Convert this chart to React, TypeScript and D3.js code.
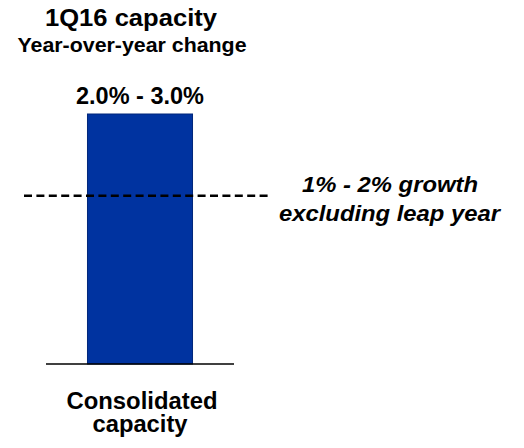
import React from "react";
import * as d3 from "d3";

const categories = ["Consolidated capacity"];
const barValues = [3.0];
const barLabels = ["2.0% - 3.0%"];
const refValue = 2.02;
const refLabel = ["1% - 2% growth", "excluding leap year"];
const titleLines = ["1Q16 capacity", "Year-over-year change"];
const categoryLines = ["Consolidated", "capacity"];

const W = 524;
const H = 448;
const FONT = "'Liberation Sans', Arial, sans-serif";

export default function App() {
  const x = d3
    .scaleBand<string>()
    .domain(categories)
    .range([46, 234])
    .paddingInner(0)
    .paddingOuter(0.395);
  const y = d3.scaleLinear().domain([0, 3]).range([364, 114]);
  const bw = x.bandwidth();
  const cx = (x(categories[0]) as number) + bw / 2;

  return (
    <svg
      width={W}
      height={H}
      style={{ position: "absolute", left: 0, top: 0, background: "#fff" }}
      fontFamily={FONT}
    >
      <rect x={0} y={0} width={W} height={H} fill="#fff" />
      <text x={131} y={26} textAnchor="middle" fontWeight="bold" fontSize={23} textLength={172} lengthAdjust="spacingAndGlyphs" fill="#000">
        {titleLines[0]}
      </text>
      <text x={132} y={52} textAnchor="middle" fontWeight="bold" fontSize={20} textLength={229} lengthAdjust="spacingAndGlyphs" fill="#000">
        {titleLines[1]}
      </text>

      {categories.map((c, i) => (
        <g key={c}>
          <rect
            x={x(c)}
            y={y(barValues[i])}
            width={bw}
            height={y(0) - y(barValues[i])}
            fill="#0033a0"
            stroke="#00267a"
            strokeWidth={1}
          />
          <text x={(x(c) as number) + bw / 2} y={104} textAnchor="middle" fontWeight="bold" fontSize={23} textLength={128} lengthAdjust="spacingAndGlyphs" fill="#000">
            {barLabels[i]}
          </text>
        </g>
      ))}

      <line x1={46} x2={234} y1={y(0)} y2={y(0)} stroke="#000" strokeWidth={1.5} />

      <line
        x1={24}
        x2={268}
        y1={y(refValue)}
        y2={y(refValue)}
        stroke="#000"
        strokeWidth={2.5}
        strokeDasharray="8,4.4"
      />

      <text x={390} y={192} textAnchor="middle" fontWeight="bold" fontStyle="italic" fontSize={22.5} textLength={176} lengthAdjust="spacingAndGlyphs" fill="#000">
        {refLabel[0]}
      </text>
      <text x={389.5} y={221} textAnchor="middle" fontWeight="bold" fontStyle="italic" fontSize={22.5} textLength={221} lengthAdjust="spacingAndGlyphs" fill="#000">
        {refLabel[1]}
      </text>

      <text x={cx + 2} y={409} textAnchor="middle" fontWeight="bold" fontSize={23} textLength={151} lengthAdjust="spacingAndGlyphs" fill="#000">
        {categoryLines[0]}
      </text>
      <text x={cx} y={432} textAnchor="middle" fontWeight="bold" fontSize={23} textLength={95} lengthAdjust="spacingAndGlyphs" fill="#000">
        {categoryLines[1]}
      </text>
    </svg>
  );
}
